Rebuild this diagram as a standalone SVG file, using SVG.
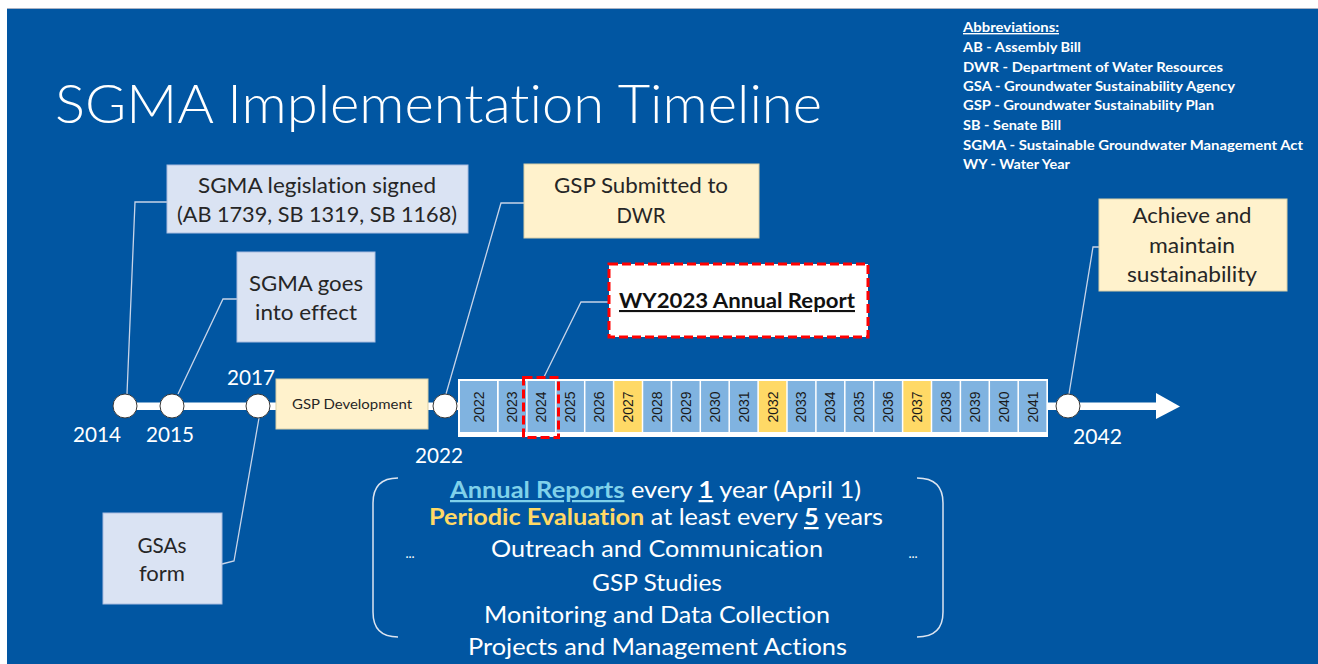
<svg xmlns="http://www.w3.org/2000/svg" width="1318" height="664" viewBox="0 0 1318 664">
<style>
.t{font-family:Lato,"Open Sans","Liberation Sans",sans-serif;font-variant-ligatures:none}
.title{font-size:53px;font-weight:300;fill:#fff}
.abbr{font-size:14px;font-weight:bold;fill:#fff}
.box{font-size:20.5px;fill:#262626;text-anchor:middle}
.yr{font-size:21px;fill:#fff}
.cell{font-family:"Liberation Sans",Arial,sans-serif;font-size:14px;fill:#1a1a1a;text-anchor:middle;dominant-baseline:central}
.bot{font-size:22.5px;fill:#fff;text-anchor:middle}
.lb{fill:#DAE3F3;stroke:#A9BCE0;stroke-width:1}
.ly{fill:#FFF2CC;stroke:#D9CFA8;stroke-width:1}
.cb{fill:#80B3E0}
.cy{fill:#FFD966}
.node{fill:#fff;stroke:#3a3a3a;stroke-width:1}
.conn{fill:none;stroke:#C8D4E8;stroke-width:1.3}
.dash{fill:none;stroke:#FF0000;stroke-width:3;stroke-dasharray:9 4}
</style>
<rect x="0" y="0" width="1318" height="664" fill="#fff"/>
<rect x="7" y="8.5" width="1311" height="656" fill="#0156A2"/>
<line x1="7" y1="8.5" x2="1318" y2="8.5" stroke="#A8B2C4" stroke-width="1"/>

<g id="title">
<text class="t title" x="55" y="123" textLength="767" lengthAdjust="spacingAndGlyphs">SGMA Implementation Timeline</text>
</g>

<g id="abbreviations" class="t abbr">
<text x="963" y="32" textLength="96" lengthAdjust="spacingAndGlyphs" text-decoration="underline">Abbreviations:</text>
<text x="963" y="52" textLength="118" lengthAdjust="spacingAndGlyphs">AB - Assembly Bill</text>
<text x="963" y="72" textLength="260" lengthAdjust="spacingAndGlyphs">DWR - Department of Water Resources</text>
<text x="963" y="91" textLength="272" lengthAdjust="spacingAndGlyphs">GSA - Groundwater Sustainability Agency</text>
<text x="963" y="110" textLength="251" lengthAdjust="spacingAndGlyphs">GSP - Groundwater Sustainability Plan</text>
<text x="963" y="130" textLength="98" lengthAdjust="spacingAndGlyphs">SB - Senate Bill</text>
<text x="963" y="150" textLength="340" lengthAdjust="spacingAndGlyphs">SGMA - Sustainable Groundwater Management Act</text>
<text x="963" y="169" textLength="107" lengthAdjust="spacingAndGlyphs">WY - Water Year</text>
</g>

<g id="timeline-bar">
<rect x="125" y="402.5" width="1033" height="7.5" fill="#fff"/>
<polygon points="1156,393 1180,406.5 1156,419" fill="#fff"/>
</g>

<g id="connectors" class="conn">
<polyline points="127,394 135,202 167,202"/>
<polyline points="178,394 223,299 237,299"/>
<polyline points="259,418 234,561 222,564"/>
<polyline points="446,394 501,203 524,203"/>
<polyline points="544,377 581,302 608,302"/>
<polyline points="1069,394 1093,247 1099,247"/>
</g>

<g id="node-legislation">
<rect class="lb" x="167" y="165" width="301" height="68"/>
<text class="t box" x="317" y="193" textLength="238" lengthAdjust="spacingAndGlyphs">SGMA legislation signed</text>
<text class="t box" x="317" y="222" textLength="280" lengthAdjust="spacingAndGlyphs">(AB 1739, SB 1319, SB 1168)</text>
</g>

<g id="node-effect">
<rect class="lb" x="237" y="252" width="138" height="90"/>
<text class="t box" x="306" y="291" textLength="114" lengthAdjust="spacingAndGlyphs">SGMA goes</text>
<text class="t box" x="306" y="320" textLength="102" lengthAdjust="spacingAndGlyphs">into effect</text>
</g>

<g id="node-gsas">
<rect class="lb" x="103" y="513" width="119" height="91"/>
<text class="t box" x="162" y="553" textLength="49" lengthAdjust="spacingAndGlyphs">GSAs</text>
<text class="t box" x="162" y="581" textLength="46" lengthAdjust="spacingAndGlyphs">form</text>
</g>

<g id="node-gsp-development">
<rect class="ly" x="276" y="379" width="152" height="50"/>
<text class="t" x="352" y="409" font-size="13.5" fill="#262626" text-anchor="middle" textLength="120" lengthAdjust="spacingAndGlyphs">GSP Development</text>
</g>

<g id="node-gsp-submitted">
<rect class="ly" x="524" y="164" width="235" height="74"/>
<text class="t box" x="641" y="193" textLength="174" lengthAdjust="spacingAndGlyphs">GSP Submitted to</text>
<text class="t box" x="641" y="223" textLength="49" lengthAdjust="spacingAndGlyphs">DWR</text>
</g>

<g id="node-wy2023">
<rect x="609" y="264" width="259" height="73" fill="#fff"/>
<rect class="dash" x="609" y="264" width="259" height="73"/>
<text class="t" x="737" y="308" font-size="21" font-weight="bold" fill="#111" text-anchor="middle" text-decoration="underline" textLength="236" lengthAdjust="spacingAndGlyphs">WY2023 Annual Report</text>
</g>

<g id="node-achieve">
<rect class="ly" x="1099" y="199" width="188" height="92"/>
<text class="t box" x="1192" y="223" textLength="119" lengthAdjust="spacingAndGlyphs">Achieve and</text>
<text class="t box" x="1192" y="253" textLength="86" lengthAdjust="spacingAndGlyphs">maintain</text>
<text class="t box" x="1192" y="282" textLength="130" lengthAdjust="spacingAndGlyphs">sustainability</text>
</g>

<g id="year-strip">
<rect x="458" y="379" width="590" height="58" fill="#fff"/>
<rect class="cb" x="460" y="381" width="37" height="51"/>
<rect class="cb" x="498.75" y="381" width="27.4" height="51"/>
<rect class="cb" x="527.65" y="381" width="27.4" height="51"/>
<rect class="cb" x="556.55" y="381" width="27.4" height="51"/>
<rect class="cb" x="585.45" y="381" width="27.4" height="51"/>
<rect class="cy" x="614.35" y="381" width="27.4" height="51"/>
<rect class="cb" x="643.25" y="381" width="27.4" height="51"/>
<rect class="cb" x="672.15" y="381" width="27.4" height="51"/>
<rect class="cb" x="701.05" y="381" width="27.4" height="51"/>
<rect class="cb" x="729.95" y="381" width="27.4" height="51"/>
<rect class="cy" x="758.85" y="381" width="27.4" height="51"/>
<rect class="cb" x="787.75" y="381" width="27.4" height="51"/>
<rect class="cb" x="816.65" y="381" width="27.4" height="51"/>
<rect class="cb" x="845.55" y="381" width="27.4" height="51"/>
<rect class="cb" x="874.45" y="381" width="27.4" height="51"/>
<rect class="cy" x="903.35" y="381" width="27.4" height="51"/>
<rect class="cb" x="932.25" y="381" width="27.4" height="51"/>
<rect class="cb" x="961.15" y="381" width="27.4" height="51"/>
<rect class="cb" x="990.05" y="381" width="27.4" height="51"/>
<rect class="cb" x="1018.95" y="381" width="27.4" height="51"/>
<g class="cell">
<text transform="translate(479,407) rotate(-90)">2022</text>
<text transform="translate(512.45,407) rotate(-90)">2023</text>
<text transform="translate(541.35,407) rotate(-90)">2024</text>
<text transform="translate(570.25,407) rotate(-90)">2025</text>
<text transform="translate(599.15,407) rotate(-90)">2026</text>
<text transform="translate(628.05,407) rotate(-90)">2027</text>
<text transform="translate(656.95,407) rotate(-90)">2028</text>
<text transform="translate(685.85,407) rotate(-90)">2029</text>
<text transform="translate(714.75,407) rotate(-90)">2030</text>
<text transform="translate(743.65,407) rotate(-90)">2031</text>
<text transform="translate(772.55,407) rotate(-90)">2032</text>
<text transform="translate(801.45,407) rotate(-90)">2033</text>
<text transform="translate(830.35,407) rotate(-90)">2034</text>
<text transform="translate(859.25,407) rotate(-90)">2035</text>
<text transform="translate(888.15,407) rotate(-90)">2036</text>
<text transform="translate(917.05,407) rotate(-90)">2037</text>
<text transform="translate(945.95,407) rotate(-90)">2038</text>
<text transform="translate(974.85,407) rotate(-90)">2039</text>
<text transform="translate(1003.75,407) rotate(-90)">2040</text>
<text transform="translate(1032.65,407) rotate(-90)">2041</text>
</g>
<rect class="dash" x="523.5" y="377.5" width="35" height="60"/>
</g>

<g id="milestones">
<circle class="node" cx="125" cy="406" r="12"/>
<circle class="node" cx="172" cy="406" r="12"/>
<circle class="node" cx="258" cy="406" r="12"/>
<circle class="node" cx="445" cy="406" r="12"/>
<circle class="node" cx="1068" cy="406" r="12"/>
<g class="t yr">
<text x="73" y="442" textLength="48" lengthAdjust="spacingAndGlyphs">2014</text>
<text x="146" y="442" textLength="48" lengthAdjust="spacingAndGlyphs">2015</text>
<text x="227" y="385" textLength="48" lengthAdjust="spacingAndGlyphs">2017</text>
<text x="415" y="463" textLength="48" lengthAdjust="spacingAndGlyphs">2022</text>
<text x="1073" y="444" textLength="49" lengthAdjust="spacingAndGlyphs">2042</text>
</g>
</g>

<g id="activities">
<path d="M398,478 Q373,478 373,503 L373,612 Q373,637 398,637" fill="none" stroke="#DCE4F0" stroke-width="1.5"/>
<path d="M917,478 Q943,478 943,503 L943,612 Q943,637 917,637" fill="none" stroke="#DCE4F0" stroke-width="1.5"/>
<text class="t" x="410" y="558" font-size="13" fill="#fff" text-anchor="middle">...</text>
<text class="t" x="913" y="558" font-size="13" fill="#fff" text-anchor="middle">...</text>
<text class="t bot" x="655.5" y="498" textLength="411" lengthAdjust="spacingAndGlyphs"><tspan fill="#7FD1EA" font-weight="bold" text-decoration="underline">Annual Reports</tspan> every <tspan font-weight="bold" text-decoration="underline">1</tspan> year (April 1)</text>
<text class="t bot" x="656" y="525" textLength="454" lengthAdjust="spacingAndGlyphs"><tspan fill="#FFD966" font-weight="bold">Periodic Evaluation</tspan> at least every <tspan font-weight="bold" text-decoration="underline">5</tspan> years</text>
<text class="t bot" x="657" y="557" textLength="332" lengthAdjust="spacingAndGlyphs">Outreach and Communication</text>
<text class="t bot" x="657" y="591" textLength="130" lengthAdjust="spacingAndGlyphs">GSP Studies</text>
<text class="t bot" x="657" y="623" textLength="346" lengthAdjust="spacingAndGlyphs">Monitoring and Data Collection</text>
<text class="t bot" x="657.5" y="655" textLength="379" lengthAdjust="spacingAndGlyphs">Projects and Management Actions</text>
</g>
</svg>
